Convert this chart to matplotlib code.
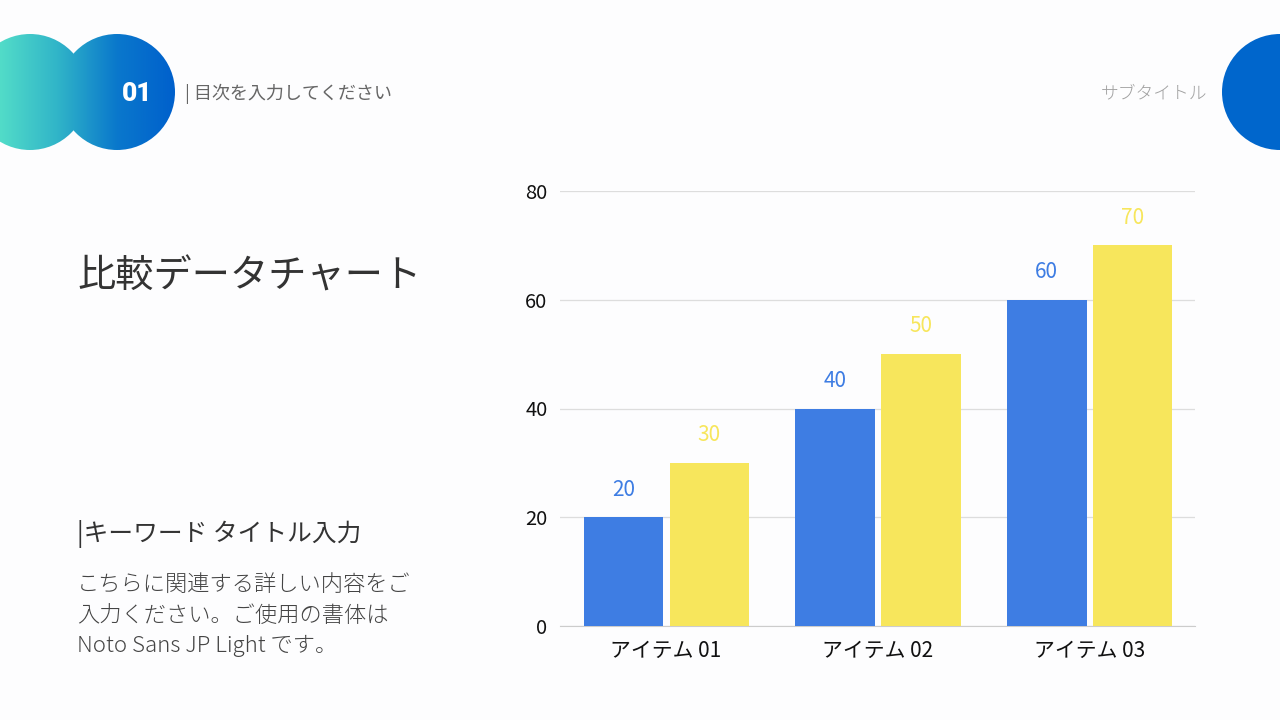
import numpy as np
import matplotlib.pyplot as plt
from matplotlib.patches import Circle
from matplotlib.colors import LinearSegmentedColormap

plt.rcParams['font.family'] = ['Noto Sans CJK JP', 'DejaVu Sans']

categories = ["アイテム 01", "アイテム 02", "アイテム 03"]
series_a = [20, 40, 60]
series_b = [30, 50, 70]
yticks = [0, 20, 40, 60, 80]

blue = "#3E7DE3"
yellow = "#F7E65C"

fig = plt.figure(figsize=(12.8, 7.2), dpi=100)
fig.patch.set_facecolor("#FDFDFE")

# background layer in pixel coordinates
bg = fig.add_axes([0, 0, 1, 1])
bg.set_xlim(0, 1280)
bg.set_ylim(720, 0)
bg.axis("off")

# gradient circles top-left
grad = np.linspace(0, 1, 256).reshape(1, -1)
cmap = LinearSegmentedColormap.from_list("tb", ["#52DCC9", "#30B4C8", "#0A78CC", "#0060CC"])
for cx in [30, 117]:
    c = Circle((cx, 92), 58, transform=bg.transData, facecolor="none", edgecolor="none")
    bg.add_patch(c)
    im = bg.imshow(grad, cmap=cmap, extent=[0, 175, 150, 34], aspect="auto", zorder=1)
    im.set_clip_path(c)

# right circle
bg.add_patch(Circle((1280, 92), 58, facecolor="#0066CC", edgecolor="none", zorder=1))

bg.text(137.5, 94, "01", color="white", fontsize=19, fontweight="black", family="Roboto",
        ha="center", va="center", zorder=3)
bg.text(185, 94, "| 目次を入力してください", color="#666666", fontsize=13, ha="left", va="center")
bg.text(1207, 93, "サブタイトル", color="#A0A0A0", fontsize=12.8, fontweight="light", ha="right", va="center")

bg.text(77, 277, "比較データチャート", color="#333333", fontsize=27.5, ha="left", va="center")
bg.text(77, 534, "|キーワード タイトル入力", color="#333333", fontsize=17.8, ha="left", va="center")
body = ["こちらに関連する詳しい内容をご", "入力ください。ご使用の書体は", "Noto Sans JP Light です。"]
for i, line in enumerate(body):
    bg.text(77, 585 + i * 30.5, line, color="#444444", fontsize=16, fontweight="light",
            ha="left", va="center")

# chart
ax = fig.add_axes([560 / 1280, 1 - 626 / 720, 635 / 1280, 435 / 720])
ax.set_facecolor("none")
x = np.arange(len(categories))
w = 0.375
ax.bar(x - 0.2, series_a, width=w, color=blue, zorder=3)
ax.bar(x + 0.205, series_b, width=w, color=yellow, zorder=3)
for xi, a, b in zip(x, series_a, series_b):
    ax.text(xi - 0.2, a + 5.1, str(a), color=blue, fontsize=15, ha="center", va="center")
    ax.text(xi + 0.205, b + 5.1, str(b), color=yellow, fontsize=15, ha="center", va="center")

ax.set_xlim(-0.5, 2.5)
ax.set_ylim(0, 80)
ax.set_yticks(yticks)
ax.set_xticks(x)
ax.set_xticklabels(categories, fontsize=15, color="#111111")
ax.tick_params(axis="y", labelsize=14.5, colors="#111111", length=0, pad=9)
ax.tick_params(axis="x", length=0, pad=10)
ax.grid(axis="y", color="#DDDDDD", linewidth=0.9, zorder=0)
for s in ["top", "right", "left"]:
    ax.spines[s].set_visible(False)
ax.spines["bottom"].set_color("#CCCCCC")

fig.savefig("out.png", dpi=100, facecolor=fig.get_facecolor())
